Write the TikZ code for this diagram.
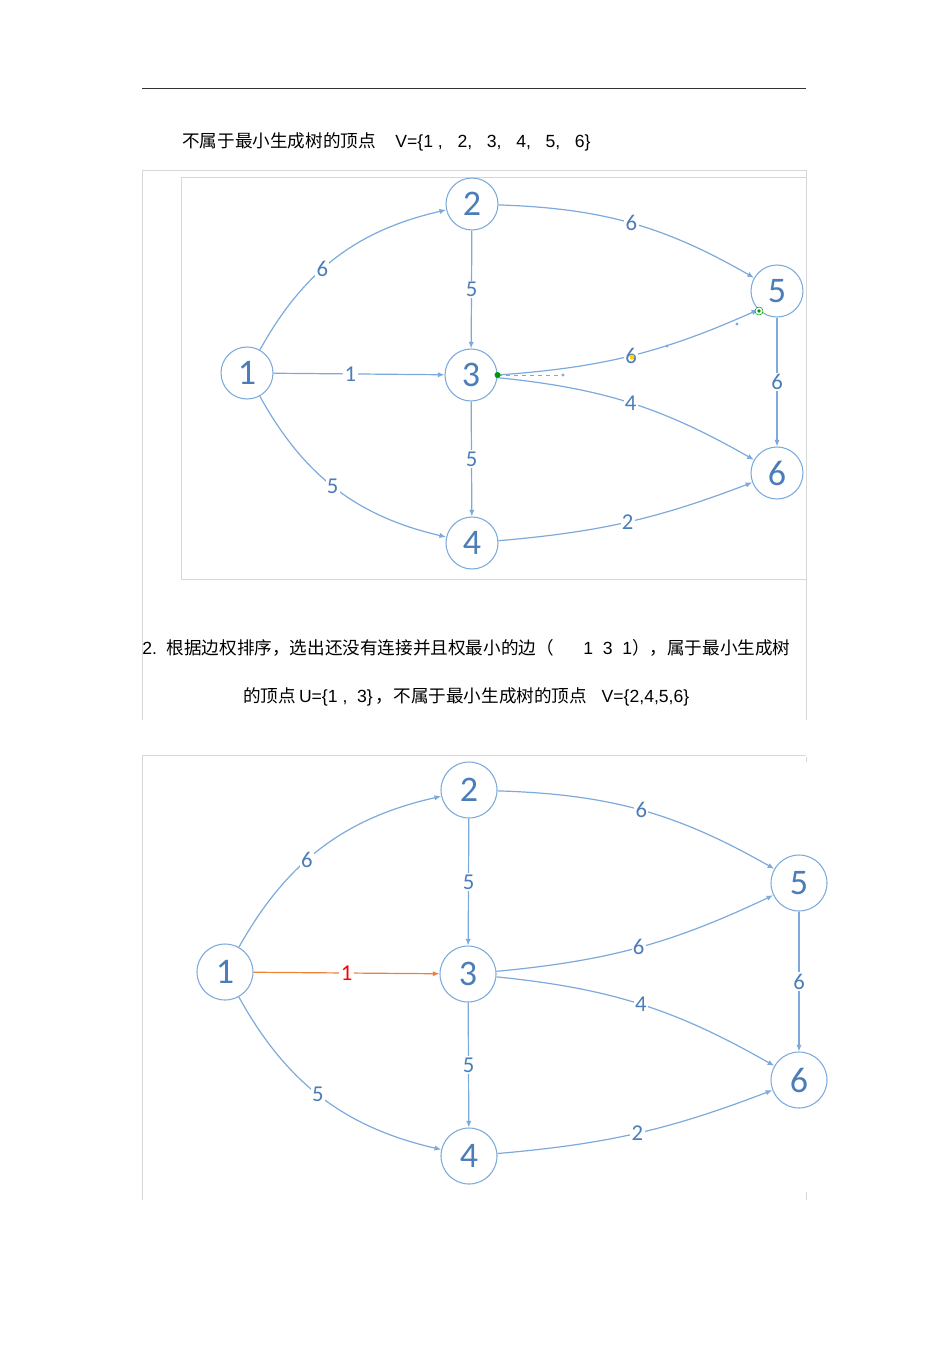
\documentclass[tikz,border=0pt]{standalone}
\usepackage{fontspec}
\setmainfont{Liberation Sans}
\newfontfamily\cjk{Noto Sans CJK SC}
\newfontfamily\nodefont{Carlito}
\usetikzlibrary{arrows.meta}
\definecolor{nblue}{RGB}{75,125,185}
\definecolor{eblue}{RGB}{125,170,220}
\definecolor{frame}{RGB}{215,215,215}
\definecolor{ored}{RGB}{235,130,60}
\tikzset{
  vtx/.style={circle,draw=eblue,thick,fill=white,minimum size=#1,inner sep=0pt,text=nblue,font=\nodefont\fontsize{27}{27}\selectfont},
  edge/.style={draw=eblue,line width=0.9pt,-{Latex[length=5pt,width=4pt]}},
  wt/.style={fill=white,inner sep=1pt,text=nblue,font=\nodefont\fontsize{17}{17}\selectfont},
  txt/.style={anchor=west,inner sep=0pt,font=\fontsize{13.2}{13.2}\selectfont}
}
\begin{document}
\begin{tikzpicture}[x=0.75pt,y=-0.75pt]
\useasboundingbox[fill=white] (0,0) rectangle (950,1345);
\draw[black!80,line width=0.6pt] (142,88) -- (806,88);
\node[txt] (t1) at (182,142) {{\cjk 不属于最小生成树的顶点}\ \ \ \ V=\{1\ , \ \ 2, \ \ 3, \ \ 4, \ \ 5, \ \ 6\}};
% frames
\draw[frame,line width=0.6pt] (142,720) -- (142,170) -- (806,170) -- (806,720);
\draw[frame,line width=0.6pt] (806,177) -- (181,177) -- (181,579) -- (806,579);
\draw[frame,line width=0.6pt] (142,1200) -- (142,755) -- (806,755);
\draw[frame,line width=0.6pt] (806,757) -- (806,762) (806,1192) -- (806,1200);
% graph 1
\begin{scope}
\node[vtx=52pt*0.75] (a1) at (247,373) {1};
\node[vtx=52pt*0.75] (a2) at (472,204) {2};
\node[vtx=52pt*0.75] (a3) at (471,375) {3};
\node[vtx=52pt*0.75] (a4) at (472,543) {4};
\node[vtx=52pt*0.75] (a5) at (777,291) {5};
\node[vtx=52pt*0.75] (a6) at (777,473) {6};
\draw[edge] (a1) to[bend left=24] node[wt,pos=0.42]{6} (a2);
\draw[edge] (a1) -- node[wt,pos=0.45]{1} (a3);
\draw[edge] (a1) to[bend right=24] node[wt,pos=0.48]{5} (a4);
\draw[edge] (a2) -- node[wt]{5} (a3);
\draw[edge] (a3) -- node[wt]{5} (a4);
\draw[edge] (a2) to[bend left=14] node[wt,pos=0.5]{6} (a5);
\draw[edge] (a3.east) to[bend right=10] node[wt,pos=0.5]{6} (a5.south west);
\draw[edge] (a3) to[bend left=12] node[wt,pos=0.5]{4} (a6);
\draw[edge] (a5) -- node[wt]{6} (a6);
\draw[edge] (a4) to[bend right=8] node[wt,pos=0.5]{2} (a6);
\draw[dashed,eblue] (a3.east) -- (563,375);
\fill[eblue] (563,375) circle (1.6);
\fill[eblue] (667,346) circle (1.6);
\fill[eblue] (737,324) circle (1.6);
\fill[green!60!black] (a3.east) circle (3);
\draw[green!60!black,fill=white] (759,311) circle (4);
\fill[green!60!black] (759,311) circle (1.8);
\fill[yellow!70!orange] (632,357) circle (2.5);
\end{scope}
\node[txt] (t2) at (142,648) {2.\ \ {\cjk 根据边权排序，选出还没有连接并且权最小的边（}\ \ \ \ \ \ 1\ \ 3\ \ 1{\cjk ），属于最小生成树}};
\node[txt] (t3) at (243,697) {{\cjk 的顶点}\,U=\{1\ , \ 3\}\,{\cjk ，不属于最小生成树的顶点}\ \ \ V=\{2,4,5,6\}};
% graph 2
\begin{scope}
\node[vtx=56pt*0.75] (b1) at (225,972) {1};
\node[vtx=56pt*0.75] (b2) at (469,790) {2};
\node[vtx=56pt*0.75] (b3) at (468,974) {3};
\node[vtx=56pt*0.75] (b4) at (469,1156) {4};
\node[vtx=56pt*0.75] (b5) at (799,883) {5};
\node[vtx=56pt*0.75] (b6) at (799,1080) {6};
\draw[edge] (b1) to[bend left=24] node[wt,pos=0.42]{6} (b2);
\draw[edge,draw=ored] (b1) -- node[wt,pos=0.5,text=red]{1} (b3);
\draw[edge] (b1) to[bend right=24] node[wt,pos=0.48]{5} (b4);
\draw[edge] (b2) -- node[wt]{5} (b3);
\draw[edge] (b3) -- node[wt]{5} (b4);
\draw[edge] (b2) to[bend left=14] node[wt,pos=0.5]{6} (b5);
\draw[edge] (b3) to[bend right=10] node[wt,pos=0.5]{6} (b5);
\draw[edge] (b3) to[bend left=12] node[wt,pos=0.5]{4} (b6);
\draw[edge] (b5) -- node[wt]{6} (b6);
\draw[edge] (b4) to[bend right=8] node[wt,pos=0.5]{2} (b6);
\end{scope}
\end{tikzpicture}
\end{document}
